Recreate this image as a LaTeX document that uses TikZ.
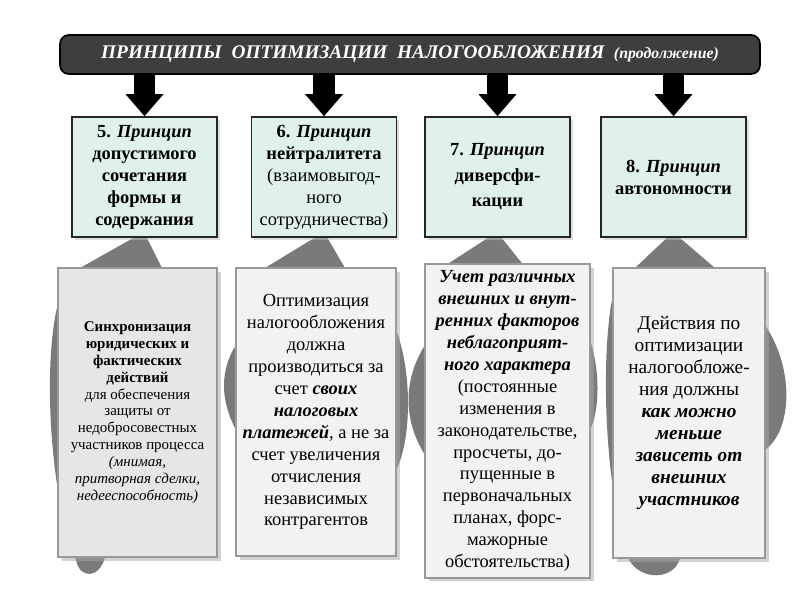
\documentclass[tikz,border=0pt]{standalone}
\usepackage{fontspec}
\setmainfont{Liberation Serif}
\usepackage{xcolor}
\usetikzlibrary{arrows.meta,shadows}

\definecolor{bannergray}{RGB}{62,62,62}
\definecolor{mint}{RGB}{223,241,233}
\definecolor{paper}{RGB}{242,242,242}
\definecolor{paperdark}{RGB}{230,230,230}
\definecolor{wedge}{RGB}{122,122,122}
\newcommand{\boldit}[1]{\textbf{\textit{#1}}}

\begin{document}
\begin{tikzpicture}[x=0.02cm, y=-0.02cm,
  banner/.style={fill=bannergray, draw=black, line width=1pt, rounded corners=5pt,
    minimum width=14cm, minimum height=0.78cm, text=white,
    font=\fontsize{11}{13}\selectfont\bfseries\itshape},
  principle/.style={fill=mint, draw=black!85, line width=1pt, minimum width=2.9cm,
    minimum height=2.4cm, align=center, font=\fontsize{10.5}{12.5}\selectfont\bfseries,
    drop shadow={shadow xshift=1.5pt, shadow yshift=-1.5pt, fill=black!25}},
  detail/.style={fill=paper, draw=black!40, line width=1.2pt, align=center,
    font=\fontsize{10.5}{12.5}\selectfont,
    drop shadow={shadow xshift=2pt, shadow yshift=-2pt, fill=black!35}},
  pointer/.style={line width=12.5pt, -{Triangle[width=21.6pt, length=12.5pt, line width=0pt]}},
  wedgefill/.style={fill=wedge}]

\fill[white] (0,0) rectangle (800,600);
\useasboundingbox (0,0) rectangle (800,600);

% gray pointers behind the lower boxes
\fill[wedgefill] (144,232) -- (162,268) -- (200,268) -- (200,557) -- (105,557)
  .. controls (100,578) and (80,580) .. (76,560)
  .. controls (50,500) and (40,350) .. (62,290) -- (80,268) -- cycle;
\fill[wedgefill] (324,232) -- (345,268) -- (396,330)
  .. controls (412,370) and (412,440) .. (396,470) -- (236,430)
  .. controls (220,400) and (220,370) .. (236,345) -- (265,268) -- cycle;
\fill[wedgefill] (497,232) -- (525,267) -- (590,340)
  .. controls (600,370) and (600,410) .. (590,430) -- (425,455)
  .. controls (403,420) and (403,380) .. (425,345) -- (443,267) -- cycle;
\fill[wedgefill] (673,232) -- (715,268) -- (765,325)
  .. controls (795,370) and (792,430) .. (765,450) -- (680,558)
  .. controls (675,580) and (640,582) .. (628,558)
  .. controls (603,480) and (601,350) .. (613,295) -- (635,268) -- cycle;

% lower boxes
\node (t1) at (137.5,412.5) [detail, fill=paperdark, minimum width=3.18cm, minimum height=5.78cm,
  font=\fontsize{8.5}{9.6}\selectfont]
  {\textbf{Синхронизация}\\ \textbf{юридических и}\\ \textbf{фактических}\\ \textbf{действий}\\
   для обеспечения\\ защиты от\\ недобросовестных\\ участников процесса\\
   \textit{(мнимая,}\\ \textit{притворная сделки,}\\ \textit{недееспособность)}};
\node (t2) at (316,412) [detail, minimum width=3.2cm, minimum height=5.76cm]
  {Оптимизация\\ налогообложения\\ должна\\ производиться за\\ счет \boldit{своих}\\
   \boldit{налоговых}\\ \boldit{платежей}, а не за\\ счет увеличения\\ отчисления\\
   независимых\\ контрагентов};
\node (t3) at (507.5,421) [detail, minimum width=3.3cm, minimum height=6.16cm]
  {\boldit{Учет различных}\\ \boldit{внешних и внут-}\\ \boldit{ренних факторов}\\
   \boldit{неблагоприят-}\\ \boldit{ного характера}\\ (постоянные\\ изменения в\\
   законодательстве,\\ просчеты, до-\\ пущенные в\\ первоначальных\\ планах, форс-\\
   мажорные\\ обстоятельства)};
\node (t4) at (689,413) [detail, minimum width=3.04cm, minimum height=5.8cm,
  font=\fontsize{11}{12.5}\selectfont]
  {Действия по\\ оптимизации\\ налогообложе-\\ ния должны\\ \boldit{как можно}\\
   \boldit{меньше}\\ \boldit{зависеть от}\\ \boldit{внешних}\\ \boldit{участников}};

% principles
\node (b1) at (144.5,177) [principle]
  {5. \textit{Принцип}\\ допустимого\\ сочетания\\ формы и\\ содержания};
\node (b2) at (324,177) [principle]
  {6. \textit{Принцип}\\ нейтралитета\\ \textmd{(взаимовыгод-}\\ \textmd{ного}\\ \textmd{сотрудничества)}};
\node (b3) at (497.5,177) [principle]
  {7. \textit{Принцип}\\[2pt] диверсфи-\\[2pt] кации};
\node (b4) at (673.5,177) [principle]
  {8. \textit{Принцип}\\ автономности};

\node (head) at (410,54.5) [banner]
  {ПРИНЦИПЫ\ \ ОПТИМИЗАЦИИ\ \ НАЛОГООБЛОЖЕНИЯ\ \ {\fontsize{9}{11}\selectfont(продолжение)}};

\foreach \b in {b1,b2,b3,b4}
  \draw[pointer] (\b.north |- head.south) -- (\b.north);
\end{tikzpicture}
\end{document}
